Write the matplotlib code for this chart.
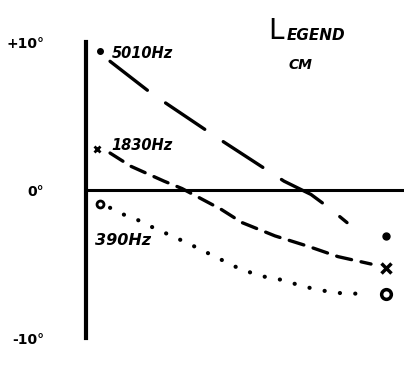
import matplotlib.pyplot as plt

plt.rcParams['font.family'] = ['DejaVu Sans']
plt.rcParams['lines.scale_dashes'] = False

# values (x in arbitrary units, y in degrees)
x_5010 = [0.8, 2.2, 4.4, 6.6, 7.5, 8.1, 8.7]
y_5010 = [8.7, 6.5, 3.5, 0.6, -0.3, -1.2, -2.2]
x_1830 = [0.8, 1.5, 2.6, 3.2, 4.5, 5.2, 6.3, 7.4, 8.4, 9.5]
y_1830 = [2.5, 1.6, 0.6, 0.1, -1.3, -2.2, -3.1, -3.8, -4.5, -5.0]
x_390 = [0.8, 1.3, 1.7, 2.2, 3.4, 3.9, 4.5, 5.1, 5.8, 6.6, 7.2, 7.9, 8.6, 9.2]
y_390 = [-1.2, -1.7, -2.0, -2.5, -3.6, -4.1, -4.7, -5.3, -5.8, -6.1, -6.5, -6.8, -7.0, -7.0]

start_x = [0.47, 0.37, 0.47]
start_y = [9.4, 2.8, -0.95]
end_x = [10.0, 10.0, 10.0]
end_y = [-3.1, -5.3, -7.0]
labels = ['5010Hz', '1830Hz', '390Hz']
yticks = [-10, 0, 10]
ytick_labels = ['-10°', '0°', '+10°']

fig = plt.figure(figsize=(4.04, 3.69), dpi=100)
ax = fig.add_axes([0.213, 0.084, 0.787, 0.802])

ax.plot(x_5010, y_5010, color='black', lw=2.4, ls=(0, (34, 16)), dash_capstyle='round')
ax.plot(x_1830, y_1830, color='black', lw=2.4, ls=(0, (11, 7)), dash_capstyle='round')
ax.plot(x_390, y_390, color='black', lw=3, ls=(0, (0.1, 11)), dash_capstyle='round')

# start markers
ax.plot(start_x[0], start_y[0], 'o', color='black', ms=4)
ax.plot(start_x[1], start_y[1], 'x', color='black', ms=5, mew=2)
ax.plot(start_x[2], start_y[2], 'o', mfc='white', mec='black', ms=5, mew=2)
# end markers
ax.plot(end_x[0], end_y[0], 'o', color='black', ms=5)
ax.plot(end_x[1], end_y[1], 'x', color='black', ms=7, mew=2.5)
ax.plot(end_x[2], end_y[2], 'o', mfc='white', mec='black', ms=7, mew=2.5)

ax.text(0.85, 9.2, labels[0], fontsize=10.5, fontweight='heavy', fontstyle='italic', va='center')
ax.text(0.85, 3.0, labels[1], fontsize=10.5, fontweight='heavy', fontstyle='italic', va='center')
ax.text(0.3, -3.4, labels[2], fontsize=11.5, fontweight='heavy', fontstyle='italic', va='center')

fig.text(0.665, 0.915, 'L', fontsize=20, va='center')
fig.text(0.71, 0.905, 'EGEND', fontsize=11, fontweight='bold', fontstyle='italic', va='center')
fig.text(0.715, 0.825, 'CM', fontsize=10, fontweight='bold', fontstyle='italic', va='center')

ax.set_xlim(0, 10.6)
ax.set_ylim(-10, 10)
ax.set_yticks(yticks)
ax.set_yticklabels(ytick_labels, fontsize=10, fontweight='bold')
ax.set_xticks([])
ax.tick_params(axis='y', length=0, pad=30)
ax.spines['top'].set_visible(False)
ax.spines['right'].set_visible(False)
ax.spines['bottom'].set_position(('data', 0))
ax.spines['left'].set_linewidth(3)
ax.spines['bottom'].set_linewidth(2.2)

fig.savefig('out.png', dpi=100)
